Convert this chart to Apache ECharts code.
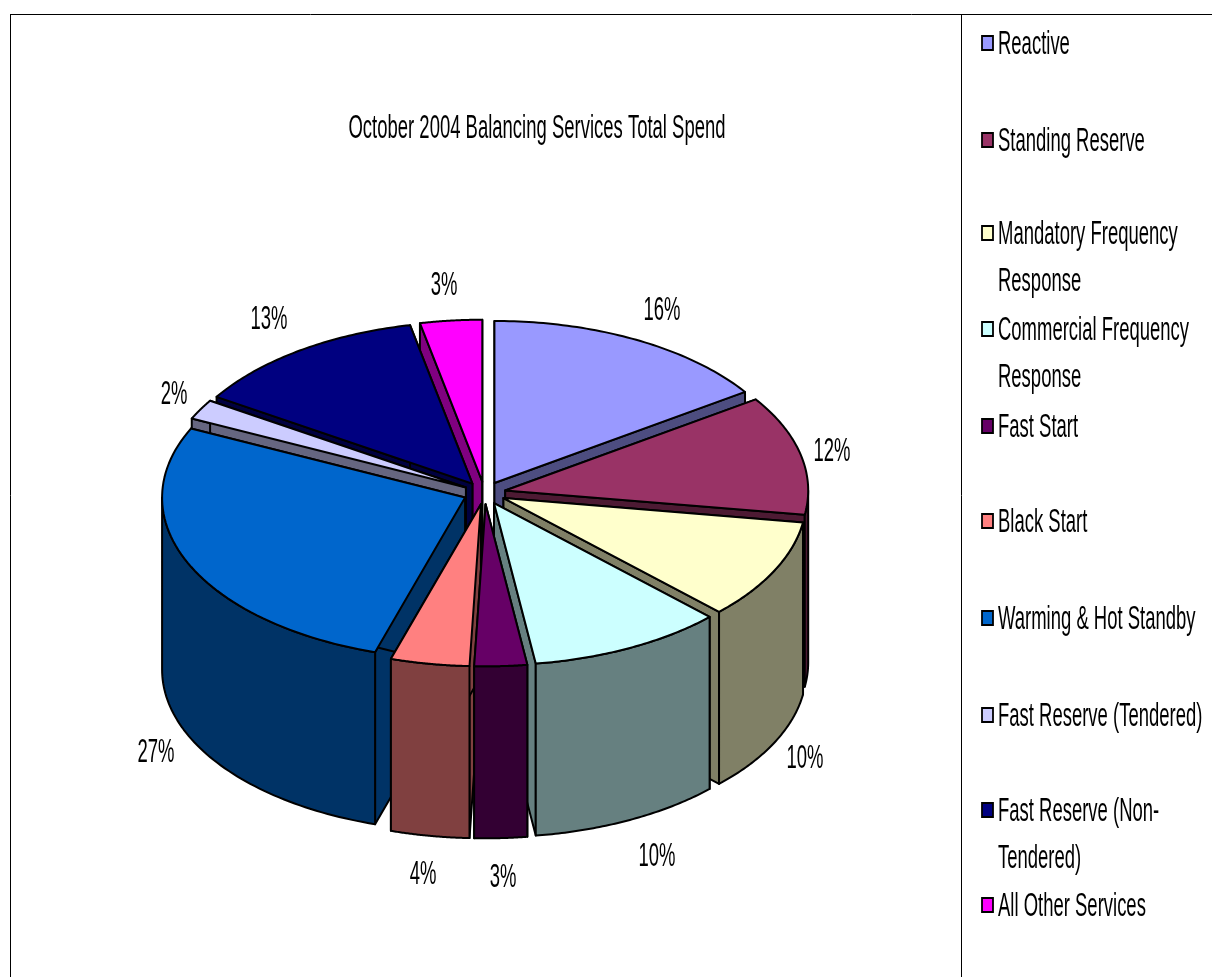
<!DOCTYPE html>
<html><head><meta charset="utf-8">
<style>html,body{margin:0;padding:0;background:#fff}#c{width:1212px;height:977px}</style>
<script src="https://cdn.jsdelivr.net/npm/echarts@6/dist/echarts.min.js"></script>
</head><body><div id="c"></div>
<script>
// ---- data ----
const titleText = 'October 2004 Balancing Services Total Spend';
const categories = ['Reactive','Standing Reserve','Mandatory Frequency\nResponse','Commercial Frequency\nResponse','Fast Start','Black Start','Warming & Hot Standby','Fast Reserve (Tendered)','Fast Reserve (Non-\nTendered)','All Other Services'];
const shares = [15.5,11.9,10,10.4,2.8,4.2,27.2,2,12.7,3.3];
const topColors = ['#9999FF','#993366','#FFFFCC','#CCFFFF','#660066','#FF8080','#0066CC','#CCCCFF','#000080','#FF00FF'];
const sideColors = ['#4D4D80','#4D1A33','#808066','#668080','#330033','#804040','#003366','#666680','#000040','#800080'];
// ---- layout ----
const C = {x:484.5,y:493,rx:303,ry:162,depth:172,explode:0.07};
const labelAnchors = [[662,311],[832,452],[805,759],[657,857],[503,878],[423,875],[156,753],[174,395],[269,320],[444,286]];
const legendRows = [43,140,233,329,426,521,618,715,810,905];
const FONT = {family:'Liberation Sans',size:33,squeeze:0.56};
const legendLine = 47, textNudge = 1.5;

const total = shares.reduce((a,b)=>a+b,0);
let cum = 0;
const spans = shares.map(v=>{const a0=cum/total*2*Math.PI;cum+=v;return [a0,cum/total*2*Math.PI];});
const rank = {};
spans.map((s,i)=>[-Math.cos((s[0]+s[1])/2),i]).sort((a,b)=>a[0]-b[0]).forEach((p,r)=>{rank[p[1]]=r;});

function squeezedText(text,x,y,z2,align){
  return {type:'text',x:x,y:y,scaleX:FONT.squeeze,z2:z2,silent:true,
    style:{text:text,fill:'#000',fontFamily:FONT.family,fontSize:FONT.size,align:align||'center',verticalAlign:'middle',lineHeight:legendLine}};
}
function renderSlice(params,api){
  const i = params.dataIndex, [a0,a1] = spans[i], m=(a0+a1)/2;
  const px = C.x + C.explode*C.rx*Math.sin(m), py = C.y - C.explode*C.ry*Math.cos(m);
  const pt = (a,d)=>[px+C.rx*Math.sin(a), py-C.ry*Math.cos(a)+(d||0)];
  const base = rank[i]*10+100;
  const stroke = {stroke:'#000',lineWidth:2,lineJoin:'round'};
  const poly = (pts,fill,z)=>({type:'polygon',z2:base+z,shape:{points:pts},style:Object.assign({fill:fill},stroke)});
  const kids = [];
  const apexLow=[px,py+C.depth];
  [a0,a1].forEach((a,k)=>kids.push(poly([[px,py],pt(a),pt(a,C.depth),apexLow],sideColors[i],k)));
  const w0=Math.max(a0,Math.PI/2), w1=Math.min(a1,1.5*Math.PI);
  if(w1>w0){
    const up=[],down=[];
    for(let k=0;k<=60;k++){const a=w0+(w1-w0)*k/60;up.push(pt(a));down.unshift(pt(a,C.depth));}
    kids.push(poly(up.concat(down),sideColors[i],3));
  }
  const arc=[[px,py]];
  for(let k=0;k<=60;k++){arc.push(pt(a0+(a1-a0)*k/60));}
  kids.push(poly(arc,topColors[i],4));
  const v = api.value(0);
  kids.push(squeezedText(Math.round(v/total*100)+'%',labelAnchors[i][0],labelAnchors[i][1],1000));
  return {type:'group',children:kids};
}
const legendElems=[];
categories.forEach((c,i)=>{
  const y=legendRows[i];
  legendElems.push({type:'rect',shape:{x:982,y:y-7,width:11,height:14},style:{fill:topColors[i],stroke:'#000',lineWidth:1.8}});
  c.split('\n').forEach((t,k)=>legendElems.push(squeezedText(t,998,y+textNudge+k*legendLine,10,'left')));
});
const frame=[
  {type:'line',shape:{x1:10,y1:14.5,x2:1212,y2:14.5},style:{stroke:'#000',lineWidth:1}},
  {type:'line',shape:{x1:10.5,y1:14,x2:10.5,y2:977},style:{stroke:'#000',lineWidth:1}},
  {type:'line',shape:{x1:961.5,y1:14,x2:961.5,y2:977},style:{stroke:'#000',lineWidth:1}}
];
const chart=echarts.init(document.getElementById('c'),null,{width:1212,height:977,renderer:'canvas'});
chart.setOption({
  animation:false,backgroundColor:'#fff',
  graphic:{elements:frame.concat([squeezedText(titleText,537,129,10)],legendElems)},
  series:[{type:'custom',coordinateSystem:'none',silent:true,renderItem:renderSlice,
    data:shares.map((v,i)=>({name:categories[i].replace('\n',' '),value:[v]}))}]
});
</script></body></html>
